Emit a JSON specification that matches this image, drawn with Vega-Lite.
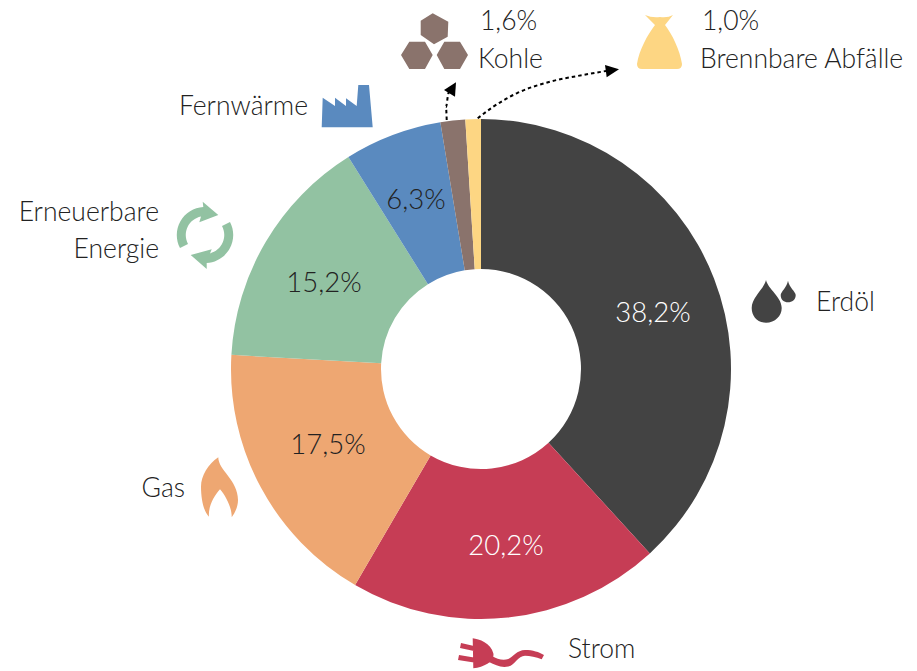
{
"$schema":"https://vega.github.io/schema/vega-lite/v6.json",
"width":917,"height":671,"padding":0,
"autosize":{"type":"fit","contains":"padding"},
"background":"#ffffff",
"config":{"view":{"stroke":null},"text":{"font":"Lato","fontWeight":300}},
"datasets":{
"slices":[
{"name":"Erdöl","share":38.2,"idx":1},
{"name":"Strom","share":20.2,"idx":2},
{"name":"Gas","share":17.5,"idx":3},
{"name":"Erneuerbare Energie","share":15.2,"idx":4},
{"name":"Fernwärme","share":6.3,"idx":5},
{"name":"Kohle","share":1.6,"idx":6},
{"name":"Brennbare Abfälle","share":1.0,"idx":7}],
"pct":[
{"t":"38,2%","x":653,"y":314},
{"t":"20,2%","x":506,"y":547},
{"t":"17,5%","x":328,"y":446},
{"t":"15,2%","x":324,"y":284},
{"t":"6,3%","x":416,"y":201}],
"left":[
{"t":"Fernwärme","x":308,"y":107},
{"t":"Erneuerbare","x":159,"y":213},
{"t":"Energie","x":159,"y":250},
{"t":"Gas","x":185,"y":489}],
"right":[
{"t":"1,6%","x":480,"y":22},
{"t":"Kohle","x":478,"y":60},
{"t":"1,0%","x":702,"y":22},
{"t":"Brennbare Abfälle","x":700,"y":60},
{"t":"Erdöl","x":816,"y":303},
{"t":"Strom","x":568,"y":650}],
"icons":[
{"name":"Erdöl","x":773,"y":301},
{"name":"Strom","x":503,"y":653},
{"name":"Gas","x":220,"y":488},
{"name":"Erneuerbare Energie","x":205,"y":235},
{"name":"Fernwärme","x":347,"y":106},
{"name":"Kohle","x":434,"y":41},
{"name":"Brennbare Abfälle","x":660,"y":42}],
"heads":[
{"k":"a","x":450,"y":89},
{"k":"b","x":610,"y":71}],
"arrows":[
{"k":"a","o":1,"x":446.7,"y":120},
{"k":"a","o":2,"x":446,"y":107},
{"k":"a","o":3,"x":448,"y":95},
{"k":"a","o":4,"x":451,"y":88},
{"k":"b","o":1,"x":477.7,"y":118.3},
{"k":"b","o":2,"x":493.3,"y":106.7},
{"k":"b","o":3,"x":516.7,"y":93.3},
{"k":"b","o":4,"x":550,"y":81.7},
{"k":"b","o":5,"x":583,"y":75},
{"k":"b","o":6,"x":606,"y":71}]
},
"layer":[
{"data":{"name":"slices"},
 "mark":{"type":"arc","innerRadius":100,"outerRadius":250},
 "encoding":{
  "x":{"datum":481,"type":"quantitative","scale":{"domain":[0,917],"range":[0,917],"nice":false,"zero":false},"axis":null},
  "y":{"datum":369,"type":"quantitative","scale":{"domain":[0,671],"range":[0,671],"nice":false,"zero":false},"axis":null},
  "theta":{"field":"share","type":"quantitative","stack":true,"scale":{"domain":[0,100],"range":[0,6.2832]}},
  "order":{"field":"idx","type":"quantitative"},
  "color":{"field":"name","type":"nominal","legend":null,"scale":{"domain":["Erdöl","Strom","Gas","Erneuerbare Energie","Fernwärme","Kohle","Brennbare Abfälle"],"range":["#434343","#c63d55","#eea772","#92c2a2","#5a8abf","#8a736c","#fdd683"]}}
 }},
{"data":{"name":"pct"},
 "mark":{"type":"text","align":"center","baseline":"middle","fontSize":27.5,"fontWeight":300,"font":"Lato"},
 "encoding":{
  "x":{"field":"x","type":"quantitative"},
  "y":{"field":"y","type":"quantitative"},
  "text":{"field":"t"},
  "color":{"condition":{"test":"datum.t=='38,2%'||datum.t=='20,2%'","value":"#ffffff"},"value":"#222222"}
 }},
{"data":{"name":"left"},
 "mark":{"type":"text","align":"right","baseline":"middle","fontSize":26.5,"fontWeight":300,"font":"Lato","color":"#222222"},
 "encoding":{"x":{"field":"x","type":"quantitative"},"y":{"field":"y","type":"quantitative"},"text":{"field":"t"}}},
{"data":{"name":"right"},
 "mark":{"type":"text","align":"left","baseline":"middle","fontSize":26.5,"fontWeight":300,"font":"Lato","color":"#222222"},
 "encoding":{"x":{"field":"x","type":"quantitative"},"y":{"field":"y","type":"quantitative"},"text":{"field":"t"}}},
{"data":{"name":"icons"},
 "mark":{"type":"point","filled":true,"opacity":1,"size":4,"strokeWidth":0},
 "encoding":{"x":{"field":"x","type":"quantitative"},"y":{"field":"y","type":"quantitative"},
  "color":{"field":"name","type":"nominal","legend":null},
  "shape":{"field":"name","type":"nominal","legend":null,"scale":{"domain":["Erdöl","Strom","Gas","Erneuerbare Energie","Fernwärme","Kohle","Brennbare Abfälle"],"range":[
   "M-7,-21 C-5,-12 8.7,-4 8.7,7 C8.7,15 2,21.7 -7,21.7 C-16,21.7 -21.3,15 -21.3,7 C-21.3,-4 -9,-12 -7,-21 Z M15,-20.3 C16,-14 22.7,-9 22.7,-6 C22.7,-1 19,1.3 15,1.3 C11,1.3 7.7,-1 7.7,-6 C7.7,-9 14,-14 15,-20.3 Z",
   "M-30.3,-14.7 C-24,-14 -12,-10 -9.7,0.3 C-8,8 -18,14 -29.7,15.3 Z M-42,-10 L-29,-7 L-29,-2 L-43,-5 Z M-44,2 L-29,4.5 L-29,9.5 L-45,7 Z M-11,3 C-6,6 0,8 5.3,6 C10,4 14,-3 22,-3 C30,-3 36,-1 41,2 L38.7,6.3 C33,4 27,2.7 22,2.7 C15,2.7 12,12 5.3,13.5 C-2,15 -8,12 -14,9 Z",
   "M-1.7,-30.7 C-2,-18 18,-8 18,12 C18,20 14,26 11.7,29.3 C12,20 6,8 0,1.3 C-7,9 -12,20 -11,28.7 C-16,24 -19,12 -19,-1.3 C-19,-12 -12,-24 -1.7,-30.7 Z",
   "M13.3,-20 L-2.3,-33.3 L-1.7,-28 A28,28 0 0 0 -25,13 L-17,9 A19,19 0 0 1 -4,-18.6 L-5.7,-12.7 Z M-14.3,20 L1.7,34 L1.7,28 A28,28 0 0 0 25,-13 L17,-9 A19,19 0 0 1 5,18.4 L6.7,14.3 Z",
   "M-25.3,21.3 L-24.3,-8.3 L-12,0 L-12,-8.3 L-1,0 L-1,-7.7 L9.7,0 L11.3,-21 L22,-21 L25.7,21.3 Z",
   "M-1.3,-27.7 L14.3,-19.3 L13.7,-4.3 L0,3.3 L-13.3,-6 L-13.3,-20.3 Z M-33,14 L-24.7,0.7 L-9,0.7 L-1.3,14 L-9,28 L-24.7,28 Z M2.7,14 L10.3,0.7 L26,0.7 L34,14 L26,28 L10.3,28 Z",
   "M-15,-27 Q-8,-24 0,-25 Q8,-24 13,-27 L5,-17 C12,-8 20,8 22,22 Q22,27 17,27 L-18,27 Q-23,27 -23,22 C-21,8 -12,-8 -5,-17 Z"
  ]}}}},
{"data":{"name":"arrows"},
 "mark":{"type":"line","interpolate":"monotone","stroke":"#000000","strokeWidth":2,"strokeDash":[3.5,3]},
 "encoding":{"x":{"field":"x","type":"quantitative"},"y":{"field":"y","type":"quantitative"},"detail":{"field":"k"},"order":{"field":"o","type":"quantitative"}}},
{"data":{"name":"heads"},
 "transform":[{"filter":"datum.k=='a'"}],
 "mark":{"type":"point","filled":true,"opacity":1,"size":4,"strokeWidth":0,"color":"#000000","shape":"M6,-6.7 L-6,1 L5,7.7 Z"},
 "encoding":{"x":{"field":"x","type":"quantitative"},"y":{"field":"y","type":"quantitative"}}},
{"data":{"name":"heads"},
 "transform":[{"filter":"datum.k=='b'"}],
 "mark":{"type":"point","filled":true,"opacity":1,"size":4,"strokeWidth":0,"color":"#000000","shape":"M9,-1.7 L-5,-6 L-3.3,6.3 Z"},
 "encoding":{"x":{"field":"x","type":"quantitative"},"y":{"field":"y","type":"quantitative"}}}
]
}
